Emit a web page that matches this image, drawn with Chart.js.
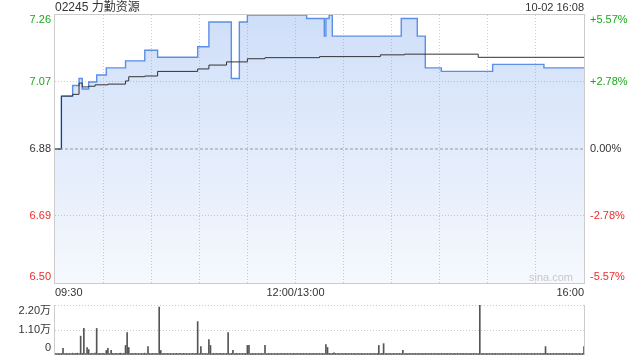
<!DOCTYPE html>
<html>
<head>
<meta charset="utf-8">
<title>02245 力勤资源</title>
<script src="https://cdn.jsdelivr.net/npm/chart.js@4.4.1/dist/chart.umd.min.js"></script>
<style>
  body { margin: 0; background: #fff; }
  #wrap { position: relative; width: 640px; height: 360px; }
  #main { position: absolute; left: 0; top: 0; }
  #vol { position: absolute; left: 0; top: 300px; }
</style>
</head>
<body>
<div id="wrap">
  <canvas id="main" width="640" height="300"></canvas>
  <canvas id="vol" width="640" height="60"></canvas>
</div>
<script>
let stockName = "02245 力勤资源"
let stamp = "10-02 16:08"
let prevClose = 6.88

// minutes counted from 09:30 (0) to 16:00 (330), lunch break left out
let timeTicks = [0, 150, 330]
let timeLabels = ["09:30", "12:00/13:00", "16:00"]
let gridMinutes = [30, 60, 90, 120, 150, 180, 210, 240, 270, 300]

let priceTicks = [6.50, 6.69, 6.88, 7.07, 7.26]
let pctLabels = ["-5.57%", "-2.78%", "0.00%", "+2.78%", "+5.57%"]
let volTicks = [0, 11000, 22000]
let volLabels = ["0", "1.10万", "2.20万"]

// price: minute where it changed and the new price
let priceMin = [0, 4, 11, 15, 17, 21, 26, 32, 44, 56, 64, 89, 96, 110, 115, 120, 157, 168, 169, 171, 173, 216, 226, 231, 241, 273, 305, 330]
let priceVal = [6.88, 7.03, 7.06, 7.08, 7.05, 7.07, 7.09, 7.11, 7.13, 7.16, 7.14, 7.17, 7.24, 7.08, 7.24, 7.26, 7.25, 7.20, 7.25, 7.26, 7.20, 7.25, 7.20, 7.11, 7.10, 7.12, 7.11, 7.11]

// average price, same idea
let avgMin = [0, 4, 11, 15, 17, 21, 25, 33, 44, 46, 56, 64, 89, 96, 107, 120, 131, 165, 203, 218, 264, 330]
let avgVal = [6.88, 7.03, 7.035, 7.067, 7.056, 7.058, 7.062, 7.064, 7.073, 7.085, 7.087, 7.10, 7.107, 7.118, 7.127, 7.136, 7.139, 7.142, 7.147, 7.149, 7.14, 7.14]

// volume per minute (shares), 0..330
let volume = [
  700, 600, 700, 600, 700, 2900, 600, 700, 600, 700,
  600, 800, 600, 700, 800, 600, 8300, 700, 11700, 600,
  3300, 2400, 600, 700, 600, 800, 11700, 600, 700, 600,
  700, 600, 2000, 2900, 600, 2000, 700, 600, 700, 600,
  700, 800, 600, 700, 4200, 9900, 3300, 600, 700, 600,
  700, 600, 700, 600, 700, 600, 800, 600, 3700, 700,
  600, 700, 600, 700, 600, 21100, 2000, 600, 700, 600,
  700, 600, 700, 600, 700, 600, 700, 600, 700, 600,
  700, 600, 700, 600, 700, 600, 700, 600, 700, 14700,
  600, 3700, 700, 600, 700, 600, 6800, 4200, 600, 700,
  600, 700, 600, 700, 600, 700, 600, 700, 9900, 600,
  700, 2000, 600, 700, 600, 700, 600, 700, 600, 700,
  4200, 4200, 600, 700, 600, 700, 600, 700, 600, 700,
  600, 4200, 600, 700, 600, 700, 600, 700, 600, 700,
  600, 700, 600, 700, 600, 700, 600, 700, 600, 700,
  600, 700, 600, 700, 600, 700, 600, 700, 600, 700,
  600, 700, 600, 700, 600, 700, 600, 700, 600, 4600,
  3300, 700, 600, 700, 900, 700, 600, 700, 600, 700,
  600, 700, 600, 700, 600, 700, 600, 700, 600, 700,
  600, 700, 600, 700, 600, 700, 600, 700, 600, 700,
  600, 700, 4200, 600, 700, 5000, 600, 700, 600, 700,
  600, 700, 600, 700, 600, 700, 600, 2000, 600, 700,
  600, 700, 600, 700, 600, 700, 600, 700, 600, 700,
  600, 700, 600, 700, 600, 700, 600, 700, 600, 700,
  600, 700, 600, 700, 600, 700, 600, 700, 600, 700,
  600, 700, 600, 700, 600, 700, 600, 700, 600, 700,
  600, 700, 600, 700, 600, 22000, 600, 700, 600, 700,
  600, 700, 600, 700, 600, 700, 600, 700, 600, 700,
  600, 700, 600, 700, 600, 700, 600, 700, 600, 700,
  600, 700, 600, 700, 600, 700, 600, 700, 600, 700,
  600, 700, 600, 700, 600, 700, 3700, 700, 600, 700,
  600, 700, 600, 700, 600, 700, 600, 700, 600, 700,
  600, 700, 600, 700, 600, 700, 600, 700, 600, 700,
  3700
]

let font = '"Liberation Sans", Arial, "Noto Sans CJK SC", sans-serif'
let green = '#1ca81c'
let red = '#ee2a2a'
let dark = '#333333'

let colorFor = (v) => {
  if (v > prevClose + 0.001) return green
  if (v < prevClose - 0.001) return red
  return dark
}

let pricePts = priceMin.map((m, i) => ({ x: m, y: priceVal[i] }))
let avgPts = avgMin.map((m, i) => ({ x: m, y: avgVal[i] }))
let volPts = volume.map((v, i) => ({ x: i, y: v }))

// texts and frame of the price panel
let mainText = {
  id: 'mainText',
  afterDraw(chart) {
    let ctx = chart.ctx
    let a = chart.chartArea
    let ys = chart.scales.y
    let xs = chart.scales.x
    ctx.save()
    ctx.strokeStyle = '#cccccc'
    ctx.lineWidth = 1
    ctx.strokeRect(a.left - 0.5, a.top - 0.5, a.right - a.left + 1, a.bottom - a.top + 1)

    ctx.textBaseline = 'middle'
    ctx.font = '12px ' + font
    ctx.fillStyle = dark
    ctx.textAlign = 'left'
    ctx.fillText(stockName, a.left, 8)
    ctx.font = '11px ' + font
    ctx.textAlign = 'right'
    ctx.fillText(stamp, a.right, 8)

    priceTicks.forEach((v, i) => {
      let py = ys.getPixelForValue(v)
      py = Math.min(Math.max(py, a.top + 5), a.bottom - 6)
      ctx.fillStyle = colorFor(v)
      ctx.textAlign = 'right'
      ctx.fillText(v.toFixed(2), a.left - 4, py)
      ctx.textAlign = 'left'
      ctx.fillText(pctLabels[i], a.right + 6, py)
    })

    ctx.fillStyle = dark
    timeTicks.forEach((m, i) => {
      let px = xs.getPixelForValue(m)
      ctx.textAlign = i == 0 ? 'left' : (i == timeTicks.length - 1 ? 'right' : 'center')
      ctx.fillText(timeLabels[i], px, a.bottom + 10)
    })

    ctx.fillStyle = '#c8c8c8'
    ctx.textAlign = 'right'
    ctx.fillText('sina.com', a.right - 11, a.bottom - 5)
    ctx.restore()
  }
}

let volText = {
  id: 'volText',
  afterDraw(chart) {
    let ctx = chart.ctx
    let a = chart.chartArea
    let ys = chart.scales.y
    ctx.save()
    ctx.strokeStyle = '#cccccc'
    ctx.lineWidth = 1
    ctx.beginPath()
    ctx.moveTo(a.left - 0.5, a.top)
    ctx.lineTo(a.left - 0.5, a.bottom)
    ctx.moveTo(a.right + 0.5, a.top)
    ctx.lineTo(a.right + 0.5, a.bottom)
    ctx.stroke()

    ctx.font = '11px ' + font
    ctx.fillStyle = dark
    ctx.textBaseline = 'middle'
    ctx.textAlign = 'right'
    volTicks.forEach((v, i) => {
      let py = ys.getPixelForValue(v)
      py = Math.min(Math.max(py, a.top + 6), a.bottom - 7)
      ctx.fillText(volLabels[i], a.left - 4, py)
    })
    ctx.restore()
  }
}

let fillGrad = (c) => {
  let a = c.chart.chartArea
  if (!a) return 'rgba(70,130,230,0.2)'
  let g = c.chart.ctx.createLinearGradient(0, a.top, 0, a.bottom)
  g.addColorStop(0, 'rgba(70,130,230,0.26)')
  g.addColorStop(1, 'rgba(70,130,230,0.05)')
  return g
}

new Chart(document.getElementById('main'), {
  type: 'line',
  data: {
    datasets: [
      {
        data: [{ x: 0, y: prevClose }, { x: 330, y: prevClose }],
        borderColor: '#9a9a9a',
        borderWidth: 1,
        borderDash: [3, 2],
        pointRadius: 0,
        fill: false,
        order: 0
      },
      {
        data: avgPts,
        stepped: true,
        borderColor: '#333333',
        borderWidth: 1,
        pointRadius: 0,
        fill: false,
        order: 1
      },
      {
        data: pricePts,
        stepped: true,
        borderColor: '#5b8fe6',
        borderWidth: 1.4,
        pointRadius: 0,
        fill: 'start',
        backgroundColor: fillGrad,
        order: 2
      }
    ]
  },
  options: {
    responsive: false,
    animation: false,
    layout: { padding: { left: 55, right: 56, top: 15, bottom: 17 } },
    plugins: { legend: { display: false }, tooltip: { enabled: false } },
    scales: {
      x: {
        type: 'linear',
        min: 0,
        max: 330,
        afterBuildTicks: (s) => { s.ticks = gridMinutes.map(v => ({ value: v })) },
        afterFit: (s) => { s.height = 0 },
        ticks: { display: false },
        grid: { color: '#cfcfcf', drawTicks: false },
        border: { display: false, dash: [1, 2] }
      },
      y: {
        min: 6.50,
        max: 7.26,
        afterBuildTicks: (s) => { s.ticks = priceTicks.map(v => ({ value: v })) },
        afterFit: (s) => { s.width = 0 },
        ticks: { display: false },
        grid: {
          color: (c) => (c.tick && (c.tick.value == 6.69 || c.tick.value == 7.07)) ? '#cfcfcf' : 'rgba(0,0,0,0)',
          drawTicks: false
        },
        border: { display: false, dash: [1, 2] }
      }
    }
  },
  plugins: [mainText]
})

new Chart(document.getElementById('vol'), {
  type: 'bar',
  data: {
    datasets: [{
      data: volPts,
      backgroundColor: '#555555',
      barThickness: 1
    }]
  },
  options: {
    responsive: false,
    animation: false,
    layout: { padding: { left: 55, right: 56, top: 5, bottom: 5 } },
    plugins: { legend: { display: false }, tooltip: { enabled: false } },
    scales: {
      x: {
        type: 'linear',
        min: 0,
        max: 330,
        offset: false,
        afterFit: (s) => { s.height = 0 },
        ticks: { display: false },
        grid: { display: false },
        border: { display: false }
      },
      y: {
        min: 0,
        max: 22000,
        afterBuildTicks: (s) => { s.ticks = volTicks.map(v => ({ value: v })) },
        afterFit: (s) => { s.width = 0 },
        ticks: { display: false },
        grid: {
          color: (c) => (c.tick && c.tick.value > 0) ? '#cccccc' : 'rgba(0,0,0,0)',
          drawTicks: false
        },
        border: { display: false, dash: [1, 2] }
      }
    }
  },
  plugins: [volText]
})
</script>
</body>
</html>
